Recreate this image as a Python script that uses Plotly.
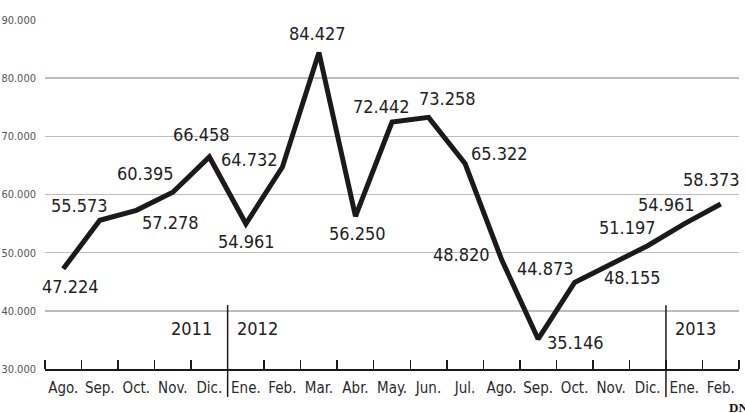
import plotly.graph_objects as go

months = ["Ago.", "Sep.", "Oct.", "Nov.", "Dic.",
          "Ene.", "Feb.", "Mar.", "Abr.", "May.", "Jun.", "Jul.",
          "Ago.", "Sep.", "Oct.", "Nov.", "Dic.",
          "Ene.", "Feb."]
values = [47224, 55573, 57278, 60395, 66458,
          54961, 64732, 84427, 56250, 72442, 73258, 65322,
          48820, 35146, 44873, 48155, 51197,
          54961, 58373]
value_labels = ["47.224", "55.573", "57.278", "60.395", "66.458",
                "54.961", "64.732", "84.427", "56.250", "72.442", "73.258", "65.322",
                "48.820", "35.146", "44.873", "48.155", "51.197",
                "54.961", "58.373"]
y_ticks = [30000, 40000, 50000, 60000, 70000, 80000, 90000]
y_tick_labels = ["30.000", "40.000", "50.000", "60.000", "70.000", "80.000", "90.000"]
years = ["2011", "2012", "2013"]

# label offsets in pixels (layout only)
label_dx = [7, -20, 34, -27, -8, 1, -33, -1, 2, -11, 19, 34, -40, 37, -29, 21, -20, -18, -9]
label_dy = [-18, 15, -12, 19, 22, -18, 7, 19, -17, 16, 19, 10, 5, -3, 14, -14, 18, 19, 24]

xs = list(range(len(months)))

fig = go.Figure()
fig.add_trace(go.Scatter(
    x=xs, y=values, mode="lines",
    line=dict(color="#1b1919", width=5),
    hoverinfo="skip", showlegend=False,
))

label_font = dict(family="DejaVu Sans Condensed", size=18, color="#222222")
for i, (x, v, t) in enumerate(zip(xs, values, value_labels)):
    fig.add_annotation(x=x, y=v, text=t, showarrow=False, font=label_font,
                       xshift=label_dx[i], yshift=label_dy[i],
                       xanchor="center", yanchor="middle")

year_font = dict(family="DejaVu Sans Condensed", size=18, color="#222222")
year_y = 37000
fig.add_annotation(x=4.5, y=year_y, text=years[0], showarrow=False, font=year_font,
                   xanchor="right", yanchor="middle", xshift=-14)
fig.add_annotation(x=4.5, y=year_y, text=years[1], showarrow=False, font=year_font,
                   xanchor="left", yanchor="middle", xshift=7)
fig.add_annotation(x=16.5, y=year_y, text=years[2], showarrow=False, font=year_font,
                   xanchor="left", yanchor="middle", xshift=7)

for xd in [4.5, 16.5]:
    fig.add_shape(type="line", xref="x", yref="paper", x0=xd, x1=xd,
                  y0=-0.08, y1=0.183, line=dict(color="#1b1919", width=1.5))

fig.add_annotation(xref="paper", yref="paper", x=0.983, y=-0.109, text="<b>DN</b>",
                   showarrow=False, xanchor="left", yanchor="middle",
                   font=dict(family="Liberation Serif", size=13, color="#111111"))

fig.update_layout(
    width=745, height=413,
    margin=dict(l=45, r=6, t=20, b=44, autoexpand=False),
    paper_bgcolor="white", plot_bgcolor="white",
    xaxis=dict(
        range=[-0.5, len(months) - 0.5],
        tickmode="array", tickvals=xs, ticktext=months,
        ticks="", showgrid=False, zeroline=False, automargin=False,
        showline=True, linecolor="#1b1919", linewidth=1.5,
        tickfont=dict(family="DejaVu Sans Condensed", size=15, color="#2a2a2a"),
        ticklabelstandoff=4,
        minor=dict(tickmode="linear", tick0=-0.5, dtick=1, ticks="inside",
                   ticklen=9, tickwidth=1.5, tickcolor="#1b1919", showgrid=False),
    ),
    yaxis=dict(
        range=[30000, 90000],
        tickmode="array", tickvals=y_ticks, ticktext=y_tick_labels,
        showgrid=True, gridcolor="#bdbdbd", gridwidth=1.5,
        zeroline=False, showline=False, ticks="", automargin=False,
        tickfont=dict(family="DejaVu Sans Condensed", size=11, color="#555555"),
        ticklabelstandoff=8,
    ),
)

fig.write_html("out.html", config={"displayModeBar": False, "staticPlot": True},
               post_script="document.body.style.margin='0';")
